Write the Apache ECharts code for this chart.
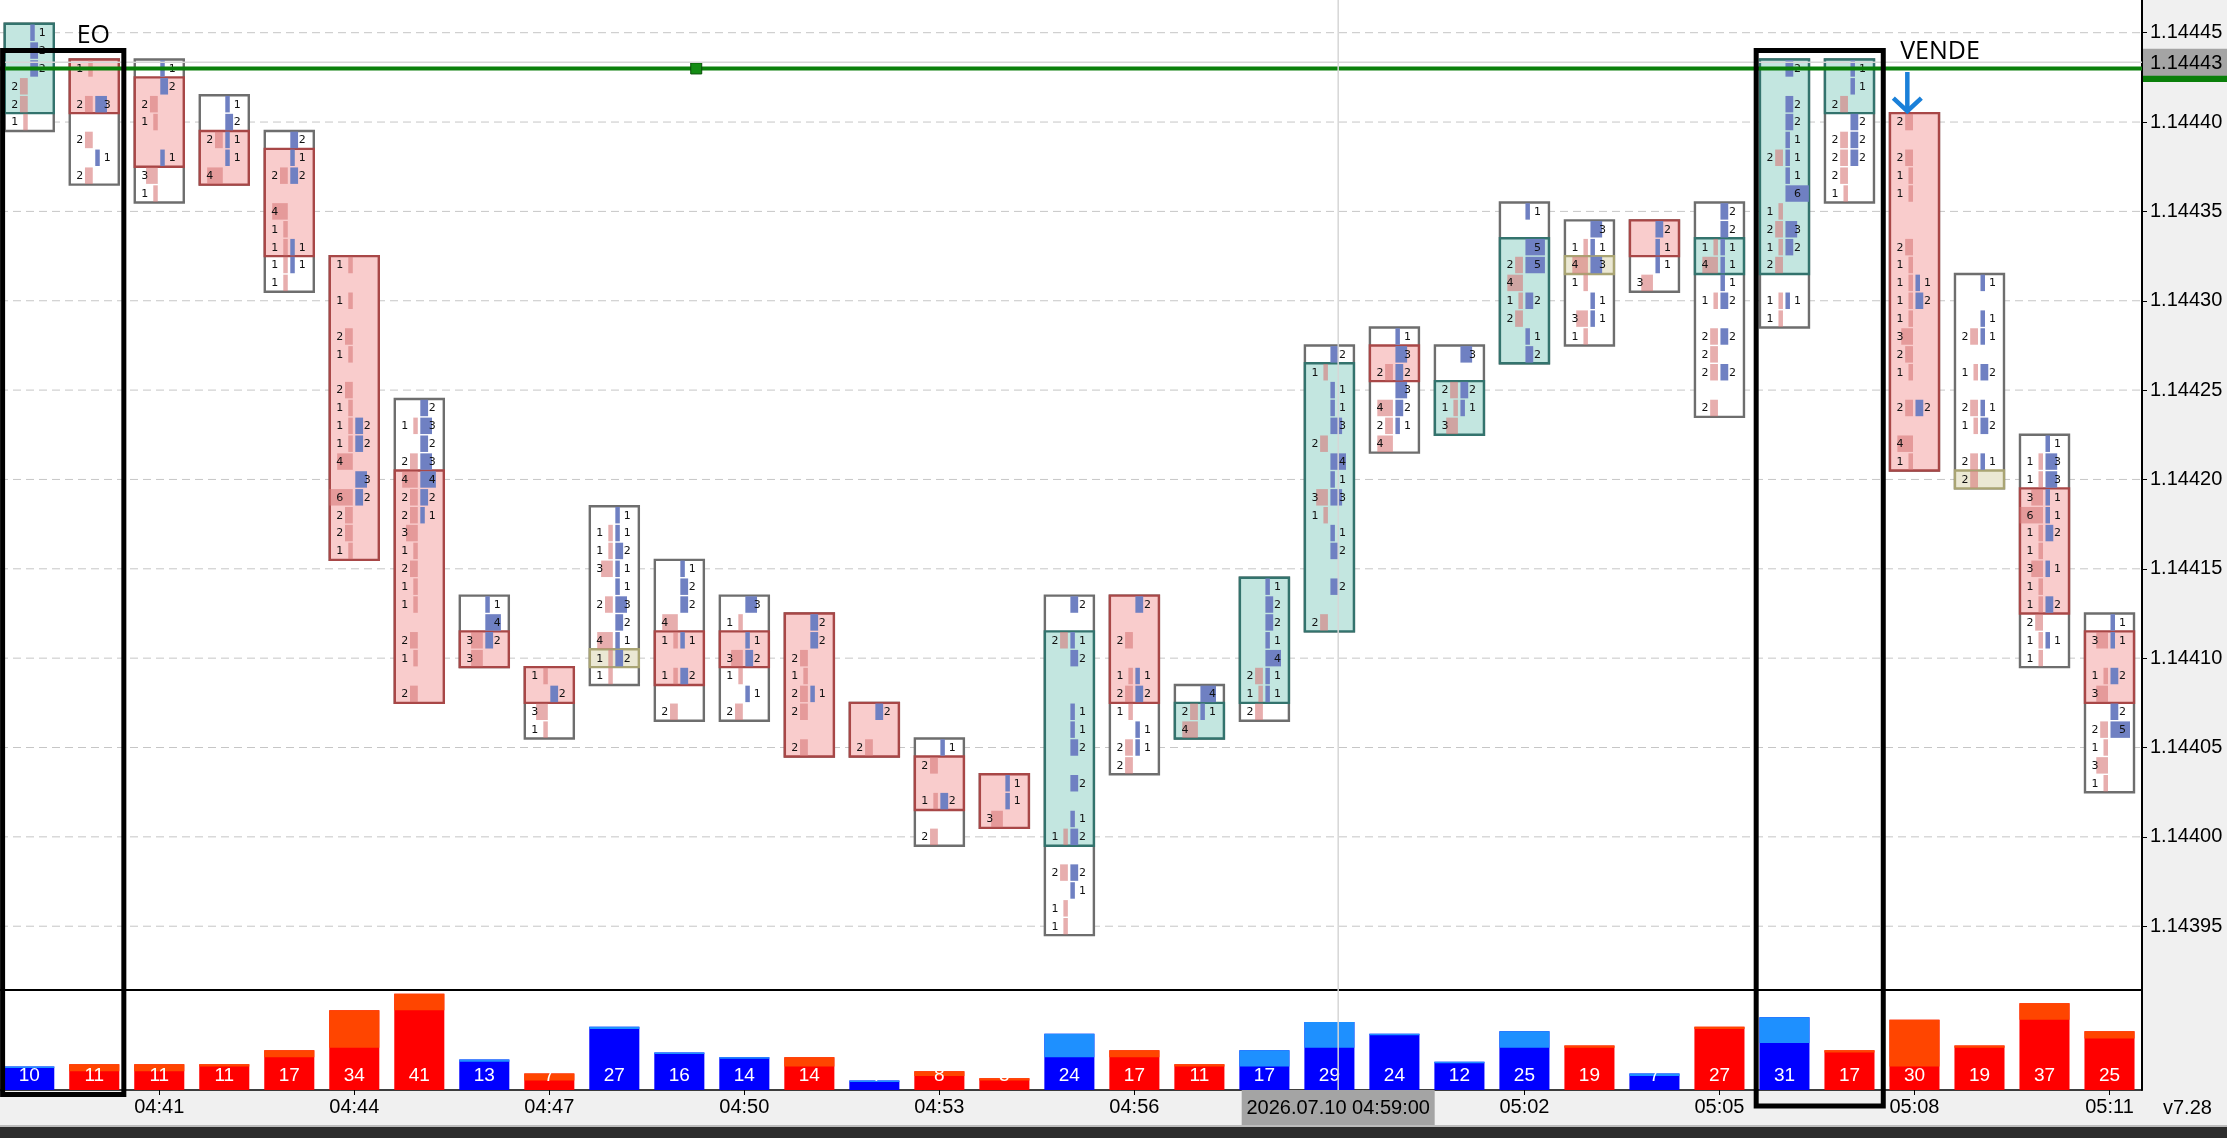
<!DOCTYPE html>
<html>
<head>
<meta charset="utf-8">
<script src="https://cdn.jsdelivr.net/npm/echarts@6/dist/echarts.min.js"></script>
<style>
html,body{margin:0;padding:0;background:#f0f0f0;}
#chart{width:2227px;height:1138px;}
</style>
</head>
<body>
<div id="chart"></div>
<script>
// ---------------- DATA (prices in points: 114445 = 1.14445) ----------------
const times = ['04:39','04:40','04:41','04:42','04:43','04:44','04:45','04:46','04:47','04:48','04:49','04:50',
  '04:51','04:52','04:53','04:54','04:55','04:56','04:57','04:58','04:59','05:00','05:01','05:02','05:03',
  '05:04','05:05','05:06','05:07','05:08','05:09','05:10','05:11'];
const opens  = [114441,114443,114442,114439,114438,114432,114420,114411,114409,114410,114411,114411,114412,114407,114404,114403,114400,114413,114406,114408,114412,114427,114423,114427,114432,114434,114432,114432,114441,114440,114420,114419,114411];
const highs  = [114445,114443,114443,114441,114439,114432,114424,114413,114409,114418,114415,114413,114412,114407,114405,114403,114413,114413,114408,114414,114427,114428,114427,114435,114434,114434,114435,114443,114443,114440,114431,114422,114412];
const lows   = [114440,114437,114436,114437,114431,114416,114408,114410,114406,114409,114407,114407,114405,114405,114400,114401,114395,114404,114406,114407,114412,114422,114423,114427,114428,114431,114424,114429,114436,114421,114420,114410,114403];
const closes = [114445,114441,114438,114437,114433,114416,114408,114410,114408,114410,114409,114410,114405,114405,114402,114401,114411,114408,114407,114414,114426,114426,114425,114433,114432,114433,114433,114443,114443,114421,114420,114413,114408];
// per candle: [price, bid volume, ask volume]
const footprints = [
 [[114445,0,1],[114444,0,2],[114443,0,2],[114442,2,0],[114441,2,0],[114440,1,0]],
 [[114443,1,0],[114441,2,3],[114439,2,0],[114438,0,1],[114437,2,0]],
 [[114443,0,1],[114442,0,2],[114441,2,0],[114440,1,0],[114438,0,1],[114437,3,0],[114436,1,0]],
 [[114441,0,1],[114440,0,2],[114439,2,1],[114438,0,1],[114437,4,0]],
 [[114439,0,2],[114438,0,1],[114437,2,2],[114435,4,0],[114434,1,0],[114433,1,1],[114432,1,1],[114431,1,0]],
 [[114432,1,0],[114430,1,0],[114428,2,0],[114427,1,0],[114425,2,0],[114424,1,0],[114423,1,2],[114422,1,2],[114421,4,0],[114420,0,3],[114419,6,2],[114418,2,0],[114417,2,0],[114416,1,0]],
 [[114424,0,2],[114423,1,3],[114422,0,2],[114421,2,3],[114420,4,4],[114419,2,2],[114418,2,1],[114417,3,0],[114416,1,0],[114415,2,0],[114414,1,0],[114413,1,0],[114411,2,0],[114410,1,0],[114408,2,0]],
 [[114413,0,1],[114412,0,4],[114411,3,2],[114410,3,0]],
 [[114409,1,0],[114408,0,2],[114407,3,0],[114406,1,0]],
 [[114418,0,1],[114417,1,1],[114416,1,2],[114415,3,1],[114414,0,1],[114413,2,3],[114412,0,2],[114411,4,1],[114410,1,2],[114409,1,0]],
 [[114415,0,1],[114414,0,2],[114413,0,2],[114412,4,0],[114411,1,1],[114409,1,2],[114407,2,0]],
 [[114413,0,3],[114412,1,0],[114411,0,1],[114410,3,2],[114409,1,0],[114408,0,1],[114407,2,0]],
 [[114412,0,2],[114411,0,2],[114410,2,0],[114409,1,0],[114408,2,1],[114407,2,0],[114405,2,0]],
 [[114407,0,2],[114405,2,0]],
 [[114405,0,1],[114404,2,0],[114402,1,2],[114400,2,0]],
 [[114403,0,1],[114402,0,1],[114401,3,0]],
 [[114413,0,2],[114411,2,1],[114410,0,2],[114407,0,1],[114406,0,1],[114405,0,2],[114403,0,2],[114401,0,1],[114400,1,2],[114398,2,2],[114397,0,1],[114396,1,0],[114395,1,0]],
 [[114413,0,2],[114411,2,0],[114409,1,1],[114408,2,2],[114407,1,0],[114406,0,1],[114405,2,1],[114404,2,0]],
 [[114408,0,4],[114407,2,1],[114406,4,0]],
 [[114414,0,1],[114413,0,2],[114412,0,2],[114411,0,1],[114410,0,4],[114409,2,1],[114408,1,1],[114407,2,0]],
 [[114427,0,2],[114426,1,0],[114425,0,1],[114424,0,1],[114423,0,3],[114422,2,0],[114421,0,4],[114420,0,1],[114419,3,3],[114418,1,0],[114417,0,1],[114416,0,2],[114414,0,2],[114412,2,0]],
 [[114428,0,1],[114427,0,3],[114426,2,2],[114425,0,3],[114424,4,2],[114423,2,1],[114422,4,0]],
 [[114427,0,3],[114425,2,2],[114424,1,1],[114423,3,0]],
 [[114435,0,1],[114433,0,5],[114432,2,5],[114431,4,0],[114430,1,2],[114429,2,0],[114428,0,1],[114427,0,2]],
 [[114434,0,3],[114433,1,1],[114432,4,3],[114431,1,0],[114430,0,1],[114429,3,1],[114428,1,0]],
 [[114434,0,2],[114433,0,1],[114432,0,1],[114431,3,0]],
 [[114435,0,2],[114434,0,2],[114433,1,1],[114432,4,1],[114431,0,1],[114430,1,2],[114428,2,2],[114427,2,0],[114426,2,2],[114424,2,0]],
 [[114443,0,2],[114441,0,2],[114440,0,2],[114439,0,1],[114438,2,1],[114437,0,1],[114436,0,6],[114435,1,0],[114434,2,3],[114433,1,2],[114432,2,0],[114430,1,1],[114429,1,0]],
 [[114443,0,1],[114442,0,1],[114441,2,0],[114440,0,2],[114439,2,2],[114438,2,2],[114437,2,0],[114436,1,0]],
 [[114440,2,0],[114438,2,0],[114437,1,0],[114436,1,0],[114433,2,0],[114432,1,0],[114431,1,1],[114430,1,2],[114429,1,0],[114428,3,0],[114427,2,0],[114426,1,0],[114424,2,2],[114422,4,0],[114421,1,0]],
 [[114431,0,1],[114429,0,1],[114428,2,1],[114426,1,2],[114424,2,1],[114423,1,2],[114421,2,1],[114420,2,0]],
 [[114422,0,1],[114421,1,3],[114420,1,3],[114419,3,1],[114418,6,1],[114417,1,2],[114416,1,0],[114415,3,1],[114414,1,0],[114413,1,2],[114412,2,0],[114411,1,1],[114410,1,0]],
 [[114412,0,1],[114411,3,1],[114409,1,2],[114408,3,0],[114407,0,2],[114406,2,5],[114405,1,0],[114404,3,0],[114403,1,0]]
];
const priceTicks = [1.14395, 1.14400, 1.14405, 1.14410, 1.14415, 1.14420, 1.14425, 1.14430, 1.14435, 1.14440, 1.14445];
const timeTickIdx = [2, 5, 8, 11, 14, 17, 23, 26, 29, 32];
const levelLine = 1.14443;          // green horizontal line
const levelHandleX = 10.26;         // green handle square position (bar index)
const crossIdx = 20.135, crossPrice = 1.1444334, crossTimeText = '2026.07.10 04:59:00';
const versionText = 'v7.28';

// ---------------- derived ----------------
const TICK = 1e-5;
const P = v => v / 1e5;
const candleData = times.map((t, i) => [i, P(opens[i]), P(highs[i]), P(lows[i]), P(closes[i])]);
const volData = footprints.map((lv, i) => {
  let vol = 0, delta = 0;
  lv.forEach(([p, b, a]) => { vol += b + a; delta += a - b; });
  return [i, vol, delta];
});
const volMax = Math.max(...volData.map(d => d[1])) * 1.04;

const BULL = {fill: '#c3e6e0', stroke: '#33736d'};
const BEAR = {fill: '#f9cccc', stroke: '#a84747'};
const DOJI = {fill: '#ebe8d4', stroke: '#a9a473'};
const BID = 'rgba(215,120,120,0.6)';
const ASK = '#6f80c2';

function renderCandle(params, api) {
  const i = api.value(0);
  const o = api.value(1), h = api.value(2), l = api.value(3), c = api.value(4);
  const cx = api.coord([i, h])[0];
  const slot = api.size([1, 0])[0];
  const lv = api.size([0, TICK])[1];
  const hw = slot * 0.377;
  const unit = slot * 0.06;
  const yOf = p => api.coord([i, p])[1];
  const kids = [];
  const wT = yOf(h) - lv / 2, wB = yOf(l) + lv / 2;
  kids.push({type: 'rect', shape: {x: cx - hw, y: wT, width: hw * 2, height: wB - wT},
    style: {fill: '#fff', stroke: '#6e6e6e', lineWidth: 2.4}});
  const bT = yOf(Math.max(o, c)) - lv / 2, bB = yOf(Math.min(o, c)) + lv / 2;
  const pal = c > o ? BULL : (c < o ? BEAR : DOJI);
  kids.push({type: 'rect', shape: {x: cx - hw, y: bT, width: hw * 2, height: bB - bT},
    style: {fill: pal.fill, stroke: pal.stroke, lineWidth: 2.4}});
  const bh = lv - 1.4;
  const texts = [];
  footprints[params.dataIndex].forEach(([p, b, a]) => {
    const y = yOf(P(p));
    if (b > 0) {
      const w = Math.max(4.5, b * unit);
      kids.push({type: 'rect', shape: {x: cx - 1.5 - w, y: y - bh / 2, width: w, height: bh}, style: {fill: BID}});
      texts.push({type: 'text', style: {text: String(b), x: cx - 14.5, y: y + 0.5, align: 'center', verticalAlign: 'middle',
        fill: '#111', font: '11px "DejaVu Sans"'}});
    }
    if (a > 0) {
      const w = Math.max(4.5, a * unit);
      kids.push({type: 'rect', shape: {x: cx + 1, y: y - bh / 2, width: w, height: bh}, style: {fill: ASK}});
      texts.push({type: 'text', style: {text: String(a), x: cx + 13, y: y + 0.5, align: 'center', verticalAlign: 'middle',
        fill: '#111', font: '11px "DejaVu Sans"'}});
    }
  });
  return {type: 'group', children: kids.concat(texts)};
}

function renderVol(params, api) {
  const i = api.value(0), v = api.value(1), d = api.value(2);
  const base = api.coord([i, 0]);
  const yt = api.coord([i, v])[1];
  const hw = api.size([1, 0])[0] * 0.385;
  const lh = Math.max(api.size([0, Math.abs(d)])[1], 1.5);
  const up = d >= 0;
  return {type: 'group', children: [
    {type: 'rect', shape: {x: base[0] - hw, y: yt, width: 2 * hw, height: base[1] - yt}, style: {fill: up ? '#0000ff' : '#ff0000'}},
    {type: 'rect', shape: {x: base[0] - hw, y: yt, width: 2 * hw, height: lh}, style: {fill: up ? '#1e90ff' : '#ff4500'}},
    {type: 'text', style: {text: String(v), x: base[0], y: base[1] - 14, align: 'center', verticalAlign: 'middle',
      fill: '#ffffff', font: '19px "Liberation Sans"'}}
  ]};
}

function renderHLine(params, api) {
  const cs = params.coordSys;
  const y = api.coord([0, api.value(1)])[1];
  return {type: 'line', shape: {x1: cs.x, y1: y, x2: cs.x + cs.width, y2: y},
    style: {stroke: '#c6c6c6', lineWidth: 1, lineDash: [8, 5]}};
}
function renderLevel(params, api) {
  const cs = params.coordSys;
  const y = api.coord([0, api.value(1)])[1];
  return {type: 'line', shape: {x1: cs.x, y1: y, x2: cs.x + cs.width, y2: y},
    style: {stroke: '#0a7f0a', lineWidth: 4}};
}

const chart = echarts.init(document.getElementById('chart'), null, {renderer: 'canvas'});
const X_MIN = -0.45, X_MAX = 32.5;
const Y_MIN = 1.1439143, Y_MAX = 1.1444683;

const option = {
  animation: false,
  backgroundColor: '#f0f0f0',
  grid: [
    {left: 0, top: 0, width: 2142, height: 990, show: true, backgroundColor: '#ffffff', borderWidth: 0},
    {left: 0, top: 990, width: 2142, height: 100, show: true, backgroundColor: '#ffffff', borderWidth: 0}
  ],
  xAxis: [
    {gridIndex: 0, type: 'value', min: X_MIN, max: X_MAX,
      axisLine: {show: true, onZero: false, lineStyle: {color: '#000', width: 2}},
      axisTick: {show: false}, axisLabel: {show: false}, splitLine: {show: false}},
    {gridIndex: 1, type: 'value', min: X_MIN, max: X_MAX,
      axisLine: {show: true, onZero: false, lineStyle: {color: '#000', width: 1.5}},
      axisTick: {show: true, customValues: timeTickIdx, length: 5, lineStyle: {color: '#000', width: 1}},
      axisLabel: {show: true, customValues: timeTickIdx, formatter: v => times[Math.round(v)] || '',
        color: '#000', fontSize: 20, fontFamily: 'Liberation Sans', margin: 7},
      splitLine: {show: false}}
  ],
  yAxis: [
    {gridIndex: 0, type: 'value', position: 'right', min: Y_MIN, max: Y_MAX,
      axisLine: {show: true, onZero: false, lineStyle: {color: '#000', width: 2}},
      axisTick: {show: true, customValues: priceTicks, length: 5, lineStyle: {color: '#000', width: 1}},
      axisLabel: {show: true, customValues: priceTicks, formatter: v => v.toFixed(5),
        color: '#000', fontSize: 20, fontFamily: 'Liberation Sans', margin: 8},
      splitLine: {show: false}},
    {gridIndex: 1, type: 'value', position: 'right', min: 0, max: volMax,
      axisLine: {show: true, onZero: false, lineStyle: {color: '#000', width: 2}},
      axisTick: {show: false}, axisLabel: {show: false}, splitLine: {show: false}}
  ],
  series: [
    {type: 'custom', name: 'grid', xAxisIndex: 0, yAxisIndex: 0, z: 1, silent: true,
      renderItem: renderHLine, data: priceTicks.map(v => [0, v]), encode: {x: 0, y: 1}},
    {type: 'custom', name: 'footprint', xAxisIndex: 0, yAxisIndex: 0, z: 3, silent: true, clip: false,
      renderItem: renderCandle, data: candleData, encode: {x: 0, y: [1, 2, 3, 4]}},
    {type: 'custom', name: 'level', xAxisIndex: 0, yAxisIndex: 0, z: 5, silent: true,
      renderItem: renderLevel, data: [[0, levelLine]], encode: {x: 0, y: 1}},
    {type: 'scatter', name: 'handle', xAxisIndex: 0, yAxisIndex: 0, z: 6, silent: true,
      symbol: 'rect', symbolSize: 11, data: [[levelHandleX, levelLine]],
      itemStyle: {color: '#148c14', borderColor: '#075007', borderWidth: 1, opacity: 1}},
    {type: 'custom', name: 'volume', xAxisIndex: 1, yAxisIndex: 1, z: 3, silent: true, clip: false,
      renderItem: renderVol, data: volData, encode: {x: 0, y: 1}}
  ]
};
chart.setOption(option);

// ---------------- annotations (positions through the axes) ----------------
const G0 = (x, y) => chart.convertToPixel({gridIndex: 0}, [x, y]);
const G1 = (x, y) => chart.convertToPixel({gridIndex: 1}, [x, y]);
const base1 = G1(0, 0)[1];
const plotRight = G0(X_MAX, Y_MIN)[0];
const crossPx = G0(crossIdx, crossPrice);
const levelY = G0(0, levelLine)[1];
const boxTop = G0(0, 1.14444)[1];
const r1a = G0(-0.41, 0)[0], r1b = G0(1.455, 0)[0];
const r2a = G0(26.565, 0)[0], r2b = G0(28.52, 0)[0];
const eo = G0(0.73, 1.1444482);
const vende = G0(28.78, 1.1444392);
const arrowX = G0(28.89, 0)[0];
const arrowTop = G0(0, 1.144428)[1], arrowTip = G0(0, 1.1444061)[1];
const arrowCol = '#1a80d9';
const Z = 100;

chart.setOption({graphic: {elements: [
  // crosshair
  {type: 'line', z: Z, silent: true, shape: {x1: crossPx[0], y1: 0, x2: crossPx[0], y2: base1}, style: {stroke: '#d6d6d6', lineWidth: 1.5}},
  {type: 'line', z: Z, silent: true, shape: {x1: 0, y1: crossPx[1], x2: plotRight, y2: crossPx[1]}, style: {stroke: '#d6d6d6', lineWidth: 1.5}},
  // price labels on axis
  {type: 'rect', z: Z, silent: true, shape: {x: plotRight + 1, y: levelY - 13.5, width: 90, height: 27}, style: {fill: '#0a7f0a'}},
  {type: 'rect', z: Z + 1, silent: true, shape: {x: plotRight + 1, y: crossPx[1] - 13.5, width: 90, height: 27}, style: {fill: '#a4a4a4'}},
  {type: 'text', z: Z + 2, silent: true, x: plotRight + 8, y: crossPx[1] + 1,
    style: {text: crossPrice.toFixed(5), font: '20px "Liberation Sans"', fill: '#000', align: 'left', verticalAlign: 'middle'}},
  // time crosshair label
  {type: 'rect', z: Z, silent: true, shape: {x: crossPx[0] - 96.5, y: base1, width: 193, height: 35}, style: {fill: '#a4a4a4'}},
  {type: 'text', z: Z + 1, silent: true, x: crossPx[0], y: base1 + 18,
    style: {text: crossTimeText, font: '20px "Liberation Sans"', fill: '#000', align: 'center', verticalAlign: 'middle'}},
  {type: 'text', z: Z, silent: true, x: plotRight + 21, y: base1 + 18,
    style: {text: versionText, font: '20px "Liberation Sans"', fill: '#000', align: 'left', verticalAlign: 'middle'}},
  // bottom strip
  {type: 'rect', z: Z, silent: true, shape: {x: 0, y: 1125, width: 2227, height: 2}, style: {fill: '#bcbcbc'}},
  {type: 'rect', z: Z, silent: true, shape: {x: 0, y: 1127, width: 2227, height: 11}, style: {fill: '#2d2d2d'}},
  // highlight boxes
  {type: 'rect', z: Z + 5, silent: true, shape: {x: r1a, y: boxTop, width: r1b - r1a, height: base1 + 4.5 - boxTop},
    style: {fill: 'none', stroke: '#000', lineWidth: 5}},
  {type: 'rect', z: Z + 5, silent: true, shape: {x: r2a, y: boxTop, width: r2b - r2a, height: base1 + 16 - boxTop},
    style: {fill: 'none', stroke: '#000', lineWidth: 5}},
  // texts
  {type: 'text', z: Z + 5, silent: true, x: eo[0], y: eo[1],
    style: {text: 'EO', font: '25px "Open Sans"', fill: '#000', align: 'left', verticalAlign: 'middle'}},
  {type: 'text', z: Z + 5, silent: true, x: vende[0], y: vende[1],
    style: {text: 'VENDE', font: '25px "Open Sans"', fill: '#000', align: 'left', verticalAlign: 'middle'}},
  // arrow
  {type: 'line', z: Z + 5, silent: true, shape: {x1: arrowX, y1: arrowTop, x2: arrowX, y2: arrowTip - 1}, style: {stroke: arrowCol, lineWidth: 4.5}},
  {type: 'polyline', z: Z + 5, silent: true, shape: {points: [[arrowX - 14, arrowTip - 13], [arrowX, arrowTip], [arrowX + 14, arrowTip - 13]]},
    style: {stroke: arrowCol, lineWidth: 4.5, fill: 'none'}}
]}});
</script>
</body>
</html>
